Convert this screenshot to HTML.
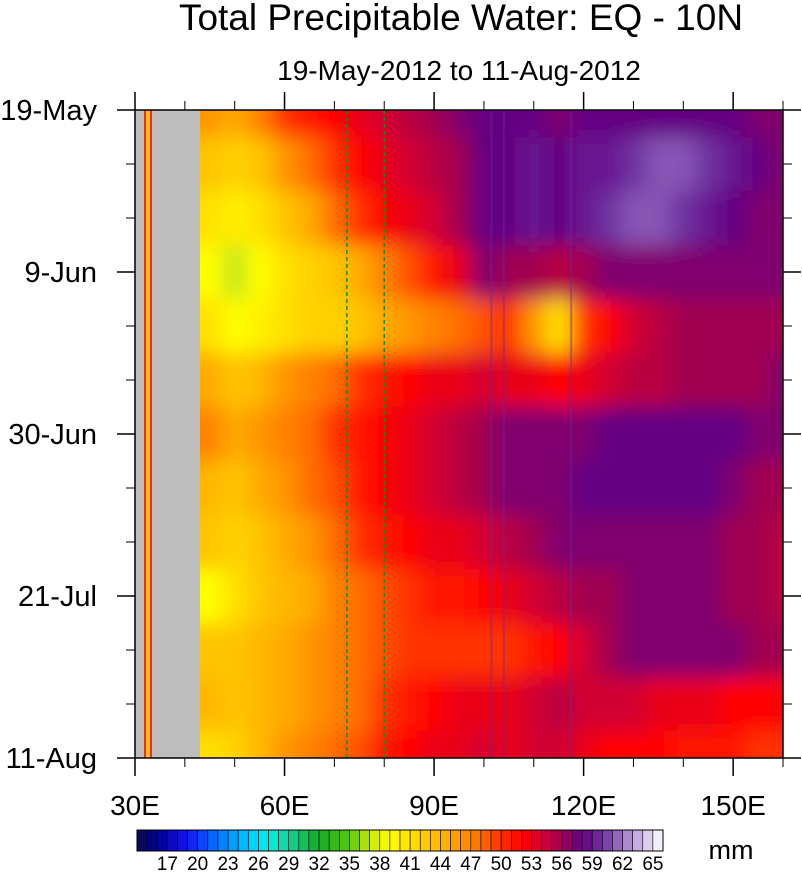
<!DOCTYPE html>
<html><head><meta charset="utf-8"><style>
body{margin:0;background:#fff;}
svg{display:block;font-family:"Liberation Sans",sans-serif;}
</style></head><body>
<svg id="chart" width="802" height="872" viewBox="0 0 802 872">
<defs>
<filter id="blur" filterUnits="userSpaceOnUse" x="100" y="50" width="760" height="780"><feGaussianBlur stdDeviation="10"/></filter>
<clipPath id="plotclip"><rect x="200" y="110" width="583" height="648"/></clipPath>
</defs>
<text x="461" y="30" font-size="37" text-anchor="middle">Total Precipitable Water: EQ - 10N</text>
<text x="459" y="80" font-size="28" text-anchor="middle">19-May-2012 to 11-Aug-2012</text>
<rect x="135" y="110" width="648" height="648" fill="#bdbdbd"/>
<rect x="144" y="110" width="8" height="648" fill="#f03010"/>
<rect x="146" y="110" width="4" height="648" fill="#ffc020"/>
<g clip-path="url(#plotclip)"><g id="cells" filter="url(#blur)"></g></g>
<g id="overlay"></g>
<g id="axes"></g>
<g id="cbar"></g>
<text x="731" y="859" font-size="27" text-anchor="middle">mm</text>
</svg>
<script>
const lons=[45,50,55,60,65,70,75,80,85,90,95,100,105,110,115,120,125,130,135,140,145,150,155,160];
const days=[0,7,14,21,28,35,42,49,56,63,70,77,84];
const tpw=[
[46,45,47,50,51,52,53,54,55,56,57,58,58,58,57,58,58,58,58,58,58,58,57,57],
[43,42,43,46,48,50,52,53,54,55,56,58,58,59,58,59,59,60,61,61,60,59,58,57],
[41,40,41,43,45,48,50,52,53,54,56,58,58,59,58,59,60,61,61,60,59,58,57,57],
[39,37,39,41,42,43,45,47,49,51,53,57,56,56,55,56,57,57,57,57,57,57,57,57],
[41,39,40,41,42,42,43,45,46,47,48,49,50,46,41,50,52,54,55,56,56,56,56,56],
[45,43,44,46,47,48,50,51,52,53,53,54,53,53,52,53,54,55,55,56,56,56,56,57],
[47,45,46,47,48,50,51,52,53,54,55,56,57,57,57,57,58,58,58,58,58,58,57,57],
[44,43,45,46,48,49,51,52,53,54,55,56,57,57,57,58,58,58,58,58,58,57,56,56],
[43,42,43,45,46,48,50,51,52,53,53,54,55,56,57,57,57,57,57,57,57,56,56,55],
[39,41,43,44,45,47,48,49,50,51,51,52,53,54,55,56,56,57,57,57,57,56,56,55],
[43,43,44,45,46,47,48,49,50,50,50,50,50,51,52,54,56,57,57,57,57,57,56,56],
[44,43,44,45,46,47,48,50,51,52,53,53,53,54,55,54,54,54,53,53,53,52,52,52],
[41,42,44,46,47,48,49,51,52,53,53,54,53,54,54,53,52,52,52,51,51,51,50,50]];
const cbLabels=[17,20,23,26,29,32,35,38,41,44,47,50,53,56,59,62,65];
const yLabels=["19-May","9-Jun","30-Jun","21-Jul","11-Aug"];
const yLabelDays=[0,21,42,63,84];
const xLabels=["30E","60E","90E","120E","150E"];
const xLabelLons=[30,60,90,120,150];

const NS="http://www.w3.org/2000/svg";
const X=l=>135+(l-30)*(648/130);
const Y=d=>110+d*(648/84);
const stops=[[14,[10,10,80]],[16,[0,0,140]],[19,[20,20,240]],[22,[0,120,255]],[25,[0,200,255]],[27,[0,240,230]],[29,[20,210,150]],[32,[20,170,40]],[35,[90,200,10]],[37,[200,230,20]],[39,[255,255,0]],[42,[255,210,0]],[45,[255,170,0]],[48,[255,110,0]],[50,[255,50,0]],[52,[255,0,0]],[54,[210,0,50]],[56,[160,0,80]],[57,[128,0,110]],[58,[100,0,130]],[60,[110,50,160]],[62,[160,120,200]],[64,[210,190,230]],[66,[255,255,255]]];
function col(v){v=Math.max(14,Math.min(66,v));for(let i=1;i<stops.length;i++){if(v<=stops[i][0]){const a=stops[i-1],b=stops[i],t=(v-a[0])/(b[0]-a[0]);return "rgb("+a[1].map((c,k)=>Math.round(c+(b[1][k]-c)*t)).join(",")+")";}}return "#fff";}
function mk(t,p,a){const e=document.createElementNS(NS,t);for(const k in a)e.setAttribute(k,a[k]);p.appendChild(e);return e;}
const cells=document.getElementById("cells");
days.forEach((d,i)=>{lons.forEach((l,j)=>{
 const x0=X(l-2.5)-(j==0?40:0),x1=X(l+2.5)+(j==lons.length-1?40:0);
 const y0=Y(d-3.5)-(i==0?30:0),y1=Y(d+3.5)+(i==days.length-1?30:0);
 const r=mk("rect",cells,{x:x0,y:y0,width:x1-x0+0.5,height:y1-y0+0.5,fill:col(tpw[i][j])});
 
 
});});
const ov=document.getElementById("overlay");
[101.5,104,117.5].forEach(l=>{const e=mk("line",ov,{x1:X(l),x2:X(l),y1:110,y2:758,stroke:"#6a2a9a","stroke-width":2,opacity:0.45});
 
 });
[72.5,80].forEach(l=>{const e=mk("line",ov,{x1:X(l),x2:X(l),y1:110,y2:758,stroke:"#1a8a1a","stroke-width":1.5,"stroke-dasharray":"4,3"});
 
 });
const ax=document.getElementById("axes");
const fr=mk("rect",ax,{x:135,y:110,width:648,height:648,fill:"none",stroke:"#000","stroke-width":1.5});


for(let d=0;d<=84;d+=7){const maj=d%21==0,L=maj?18:9;
 mk("line",ax,{x1:135-L,x2:135,y1:Y(d),y2:Y(d),stroke:"#000","stroke-width":maj?1.5:1});
 mk("line",ax,{x1:783,x2:783+L,y1:Y(d),y2:Y(d),stroke:"#000","stroke-width":maj?1.5:1});}
for(let l=30;l<=160;l+=10){const maj=(l-30)%30==0,L=maj?18:9;
 mk("line",ax,{x1:X(l),x2:X(l),y1:758,y2:758+L,stroke:"#000","stroke-width":maj?1.5:1});
 mk("line",ax,{x1:X(l),x2:X(l),y1:110-L,y2:110,stroke:"#000","stroke-width":maj?1.5:1});}
yLabels.forEach((s,i)=>{const t=mk("text",ax,{x:97,y:Y(yLabelDays[i])+10,"font-size":29,"text-anchor":"end"});t.textContent=s;
 
 });
xLabels.forEach((s,i)=>{const t=mk("text",ax,{x:X(xLabelLons[i]),y:815,"font-size":28,"text-anchor":"middle"});t.textContent=s;
 
 });
const cb=document.getElementById("cbar");
const cbx=137,cbw=526,n=52,bw=cbw/n;
for(let k=0;k<n;k++){const r=mk("rect",cb,{x:cbx+k*bw,y:830,width:bw,height:21,fill:col(14.5+k),stroke:"#000","stroke-width":0.6});
 
 }
const cbf=mk("rect",cb,{x:cbx,y:830,width:cbw,height:21,fill:"none",stroke:"#000","stroke-width":1});


cbLabels.forEach(v=>{const t=mk("text",cb,{x:cbx+(v-14)*bw,y:870,"font-size":19,"text-anchor":"middle"});t.textContent=v;
 
 });
</script>
</body></html>
